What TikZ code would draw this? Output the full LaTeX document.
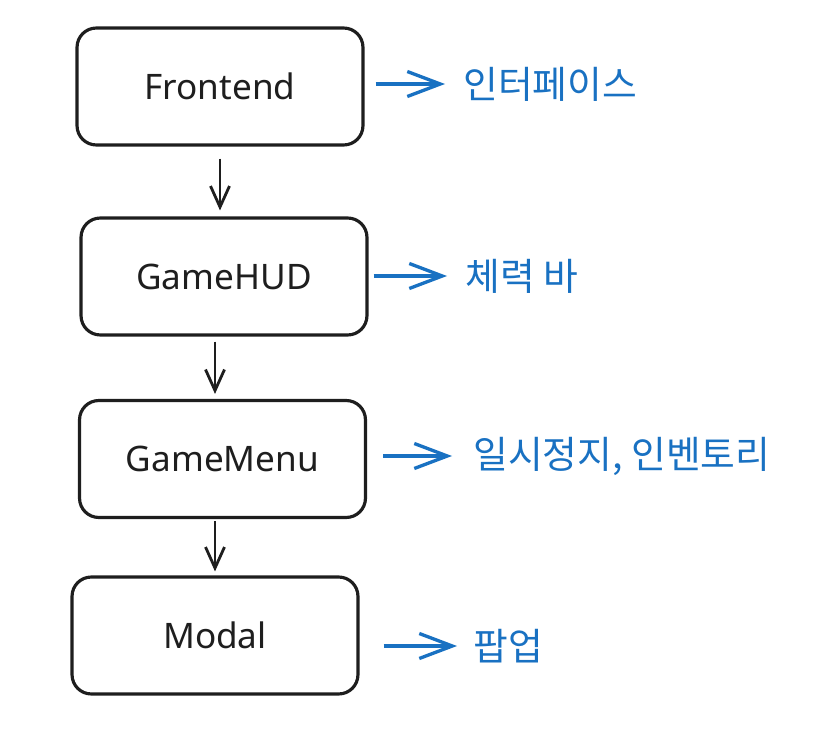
\documentclass[tikz,border=0pt]{standalone}
\usepackage{fontspec}
\setmainfont{Noto Sans}
\newfontfamily\krfont{Noto Sans CJK KR}
\usepackage{xcolor}
\definecolor{inkblack}{RGB}{30,30,30}
\definecolor{inkblue}{RGB}{25,113,194}
\usetikzlibrary{arrows.meta,positioning}

\begin{document}
\begin{tikzpicture}[
  x=0.02cm, y=-0.02cm,
  every node/.style={font=\fontsize{20}{24}\selectfont},
  layerbox/.style={draw=inkblack,line width=1.8pt,rounded corners=11pt,fill=white,
                   minimum width=5.72cm,minimum height=2.34cm,align=center,text=inkblack},
  note/.style={anchor=west,inner sep=0pt,text=inkblue,
               font=\krfont\fontsize{21.5}{25}\selectfont},
  arr/.style={-{Straight Barb[length=0.42cm,width=0.38cm]},line width=1.6pt,inkblack},
  bluearr/.style={-{Straight Barb[length=0.66cm,width=0.5cm]},line width=1.9pt,inkblue},
]
  \useasboundingbox (0,0) rectangle (833,730);

  % Layer stack
  \node[layerbox] (frontend) at (220,86.5) {Frontend};
  \node[layerbox] (gamehud) at (224,276.5) {GameHUD};
  \node[layerbox] (gamemenu) at (222.5,459) {GameMenu};
  \node[layerbox] (modal) at (215,635.5) {Modal};

  % Notes (right)
  \node[note] (ui) at (463,84) {인터페이스};
  \node[note] (hp) at (465,276) {체력 바};
  \node[note] (pause) at (473,456) {일시정지, 인벤토리};
  \node[note] (popup) at (473,646) {팝업};

  % Downward arrows
  \draw[arr,shorten <=0.24cm,shorten >=0.12cm] (frontend.south) -- (frontend.south |- gamehud.north);
  \draw[arr,shorten <=0.1cm,shorten >=0.1cm] (gamehud.south -| modal.north) -- (gamemenu.north -| modal.north);
  \draw[arr,shorten <=0.04cm,shorten >=0.08cm] (gamemenu.south -| modal.north) -- (modal.north);

  % Note arrows
  \draw[bluearr,shorten <=0.22cm,shorten >=0.36cm] (frontend.east |- ui.west) -- (ui.west);
  \draw[bluearr,shorten <=0.1cm,shorten >=0.36cm] (gamehud.east |- hp.west) -- (hp.west);
  \draw[bluearr,shorten <=0.32cm,shorten >=0.42cm] (gamemenu.east |- pause.west) -- (pause.west);
  \draw[bluearr,shorten <=0.48cm,shorten >=0.32cm] (modal.east |- popup.west) -- (popup.west);
\end{tikzpicture}
\end{document}
